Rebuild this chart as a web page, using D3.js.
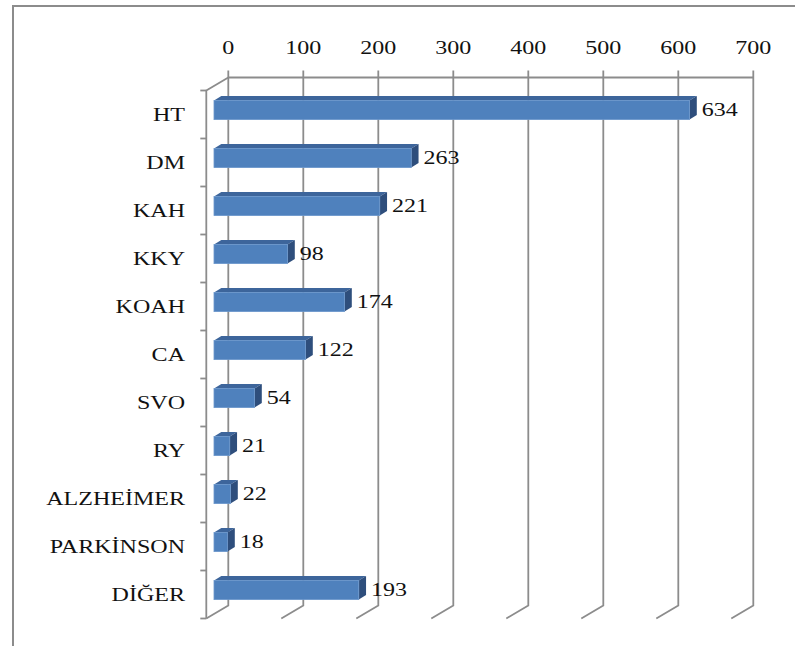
<!DOCTYPE html>
<html>
<head>
<meta charset="utf-8">
<script src="https://cdn.jsdelivr.net/npm/d3@7"></script>
<style>
  html, body { margin: 0; padding: 0; background: #fff; }
  svg { display: block; }
</style>
</head>
<body>
<svg id="chart" width="795" height="646"></svg>
<script>
// Disease categories and patient counts
const categories = ["HT", "DM", "KAH", "KKY", "KOAH", "CA", "SVO", "RY", "ALZHEİMER", "PARKİNSON", "DİĞER"];
const counts = [634, 263, 221, 98, 174, 122, 54, 21, 22, 18, 193];
const tickValues = [0, 100, 200, 300, 400, 500, 600, 700];

const svg = d3.select("#chart");

// Outer frame (open on the right and bottom)
svg.append("path")
  .attr("d", "M13,646 L13,6 L795,6")
  .attr("fill", "none")
  .attr("stroke", "#8c8c8c")
  .attr("stroke-width", 2);

// Back wall scales
const x = d3.scaleLinear().domain([0, 700]).range([228.3, 753.3]);
const y = d3.scaleBand().domain(categories).range([77.5, 605.5]);

// Perspective offsets (floor depth)
const depth = { dx: -22, dy: 13 };
const barFront = { dx: -14.3, dy: 8.5 };
const barBack = { dx: -7, dy: 4 };

const gridColor = "#8c8c8c";
const g = svg.append("g");

// Vertical gridlines on the back wall, with tick stubs above and floor edges below
tickValues.forEach(v => {
  const gx = x(v);
  g.append("path")
    .attr("d", `M${gx},${y.range()[0] - 7} L${gx},${y.range()[1]} L${gx + depth.dx},${y.range()[1] + depth.dy}`)
    .attr("fill", "none")
    .attr("stroke", gridColor)
    .attr("stroke-width", 1.8);
});

// Top edge of the back wall (value axis line)
g.append("line")
  .attr("x1", x(0)).attr("x2", x(700))
  .attr("y1", y.range()[0]).attr("y2", y.range()[0])
  .attr("stroke", gridColor).attr("stroke-width", 1.8);

// Left wall front edge with category tick marks
const leftX = x(0) + depth.dx;
const y0 = y.range()[0] + depth.dy, y1 = y.range()[1] + depth.dy;
g.append("path")
  .attr("d", `M${x(0)},${y.range()[0]} L${leftX},${y0} L${leftX},${y1}`)
  .attr("fill", "none")
  .attr("stroke", gridColor).attr("stroke-width", 1.8);

const boundaries = categories.map(c => y(c)).concat([y.range()[1]]);
boundaries.forEach(b => {
  g.append("line")
    .attr("x1", leftX - 6).attr("x2", leftX)
    .attr("y1", b + depth.dy).attr("y2", b + depth.dy)
    .attr("stroke", gridColor).attr("stroke-width", 1.8);
});

// Horizontally widened serif text helper
const sx = 1.3;
function label(parent, tx, ty, str, anchor) {
  parent.append("text")
    .attr("transform", `translate(${tx},${ty}) scale(${sx},1)`)
    .attr("text-anchor", anchor)
    .attr("dominant-baseline", "central")
    .style("font-family", '"Liberation Serif"')
    .style("font-size", "18.5px")
    .attr("fill", "#111")
    .text(str);
}

// Value axis labels across the top
tickValues.forEach(v => label(svg, x(v), 48, v, "middle"));

// Category labels
categories.forEach(c => label(svg, 185, y(c) + y.bandwidth() / 2 + depth.dy, c, "end"));

// 3D bars
const barH = y.bandwidth() * 0.4;
const data = categories.map((c, i) => ({ c, v: counts[i] }));
const bars = svg.append("g");
const ddx = barBack.dx - barFront.dx, ddy = barBack.dy - barFront.dy;

data.forEach(d => {
  const xa = x(0) + barFront.dx;
  const xb = x(d.v) + barFront.dx;
  const yc = y(d.c) + y.bandwidth() / 2 + barFront.dy;
  const yt = yc - barH / 2, yb = yc + barH / 2;

  // top face
  bars.append("polygon")
    .attr("points", [[xa, yt], [xb, yt], [xb + ddx, yt + ddy], [xa + ddx, yt + ddy]].join(" "))
    .attr("fill", "#3d659b");
  // end face
  bars.append("polygon")
    .attr("points", [[xb, yt], [xb + ddx, yt + ddy], [xb + ddx, yb + ddy], [xb, yb]].join(" "))
    .attr("fill", "#2e4e7c");
  // front face
  bars.append("rect")
    .attr("x", xa).attr("y", yt)
    .attr("width", xb - xa).attr("height", barH)
    .attr("fill", "#4f81bd")
    .attr("stroke", "#6b97cc").attr("stroke-width", 0.8);

  // value label
  label(svg, xb + ddx + 5, yc, d.v, "start");
});
</script>
</body>
</html>
